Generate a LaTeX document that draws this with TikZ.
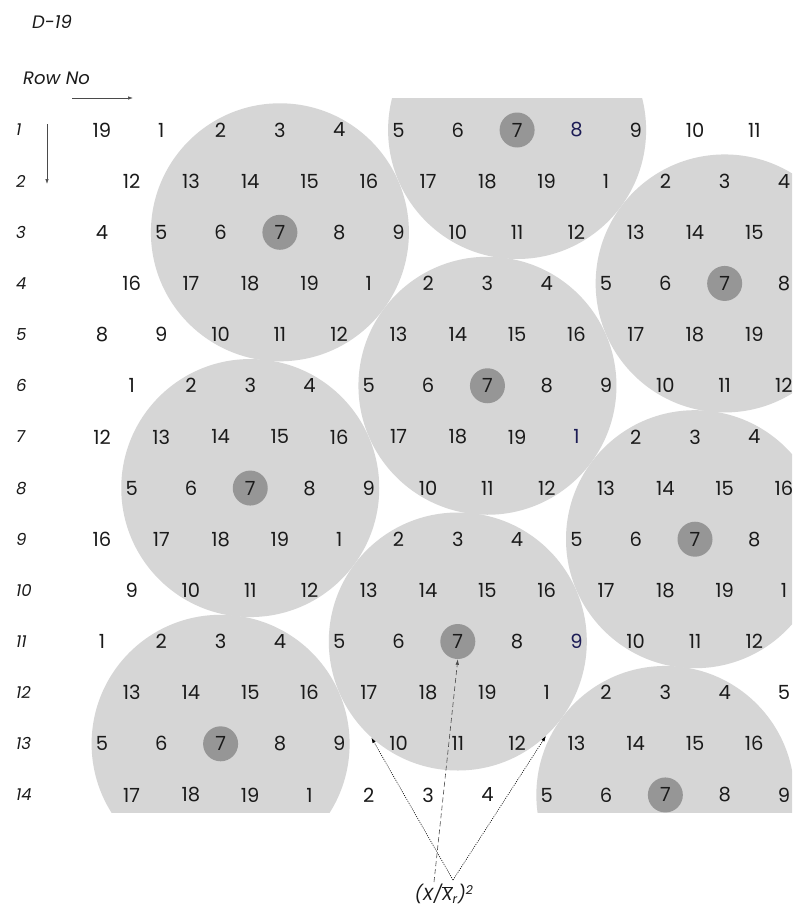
\documentclass[tikz,border=0pt]{standalone}
\usepackage{fontspec}
\setmainfont{Poppins}
\usetikzlibrary{arrows.meta}

\definecolor{discgray}{HTML}{D6D6D6}
\definecolor{coregray}{HTML}{969696}
\definecolor{ink}{HTML}{1A1A1A}
\definecolor{navy}{HTML}{1C1C55}
\definecolor{rule}{HTML}{4A4A4A}

\begin{document}
\begin{tikzpicture}[
  x=1pt, y=-1pt,
  num/.style={text=ink, inner sep=0pt, font=\fontsize{19.5}{24}\selectfont},
  rowlab/.style={anchor=west, inner sep=0pt, text=ink, font=\fontsize{16.5}{20}\selectfont\itshape},
  title/.style={anchor=west, inner sep=0pt, text=ink, font=\fontsize{18}{22}\selectfont\itshape},
  lab/.style={inner sep=0pt, text=ink, font=\fontsize{17.5}{21}\selectfont\itshape},
  disc/.style={circle, fill=discgray, minimum size=258pt, inner sep=0pt},
  core/.style={circle, fill=coregray, minimum size=35pt, inner sep=0pt},
  guide/.style={-{Latex[length=5pt,width=3.5pt]}, draw=rule, line width=0.7pt},
  ptr/.style={-{Latex[length=5.5pt,width=3.5pt]}, line width=0.6pt},
]
\useasboundingbox[fill=white] (0,0) rectangle (792,907);

% cell centres, odd rows flush, even rows half a step in
\foreach \r in {1,...,14}
  \foreach \k in {0,...,11}{
    \pgfmathsetmacro\xx{102+29.65*mod(\r+1,2)+59.3*\k}
    \pgfmathsetmacro\yy{130+51.15*(\r-1)}
    \coordinate (c-\r-\k) at (\xx,\yy);
  }

% clusters
\begin{scope}
  \clip (0,98) rectangle (792,812);
  \node[disc] (dA) at (c-3-3) {};
  \node[disc] (dB) at (c-1-7) {};
  \node[disc] (dC) at (c-4-10) {};
  \node[disc] (dD) at (c-6-6) {};
  \node[disc] (dE) at (c-8-2) {};
  \node[disc] (dF) at (c-9-10) {};
  \node[disc] (dG) at (c-11-6) {};
  \node[disc] (dH) at (c-13-2) {};
  \node[disc] (dI) at (c-14-9) {};
  \foreach \d in {A,...,I} \node[core] (k\d) at (d\d) {};
\end{scope}

% cell numbers
\foreach \r/\s in {1/19,2/12,3/4,4/16,5/8,6/1,7/12,8/5,9/16,10/9,11/1,12/13,13/5,14/17}
  \foreach \k in {0,...,11}{
    \pgfmathtruncatemacro\v{mod(\s+\k-1,19)+1}
    \pgfmathtruncatemacro\hl{(\k==8)&&((\r==1)||(\r==7)||(\r==11))}
    \ifnum\hl=1 \def\tint{navy}\else\def\tint{ink}\fi
    \node[num, text=\tint] (n-\r-\k) at (c-\r-\k) {\v};
  }

% row numbers
\foreach \r in {1,...,14}
  \node[rowlab] (row-\r) at (16,{130+51.15*(\r-1)}) {\r};

\node[title] (sheet) at (32,22) {D-19};
\node[title] (rowno) at (23,78) {Row No};

\coordinate (h0) at (72,98);
\coordinate (h1) at (133,98);
\coordinate (v0) at (47,124);
\coordinate (v1) at (47,184);
\draw[guide] (h0) -- (h1);
\draw[guide] (v0) -- (v1);

\node[lab, anchor=north] (ratio) at (444,884)
  {(X/\(\overline{\mbox{X}}\)\textsubscript{r})\textsuperscript{2}};

\draw[ptr, dash pattern=on 1pt off 1.2pt] ([xshift=9pt,yshift=4pt]ratio.north) -- (dG.228);
\draw[ptr, dash pattern=on 1pt off 1.2pt] ([xshift=9pt,yshift=4pt]ratio.north) -- (dG.313);
\draw[ptr, draw=rule, dash pattern=on 5pt off 3pt] ([xshift=-10pt,yshift=2pt]ratio.north) -- (kG.south);

\end{tikzpicture}
\end{document}
